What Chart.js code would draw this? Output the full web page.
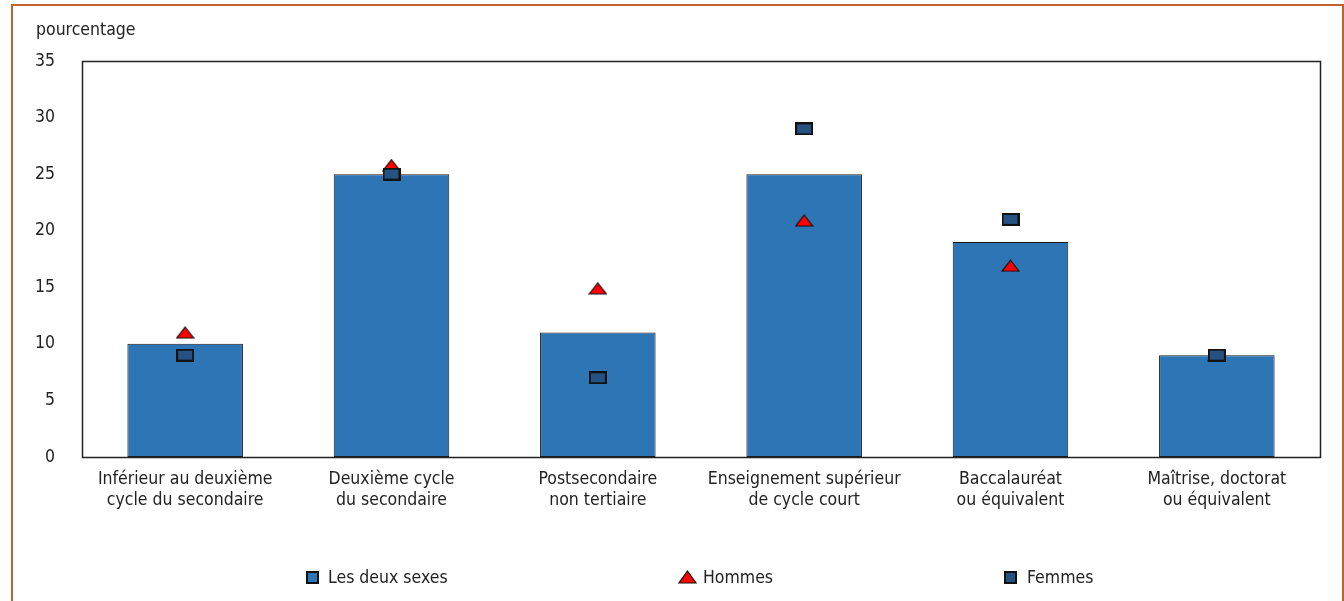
<!DOCTYPE html>
<html>
<head>
<meta charset="utf-8">
<script src="https://cdn.jsdelivr.net/npm/chart.js@4.4.1/dist/chart.umd.min.js"></script>
<style>
  html, body { margin: 0; padding: 0; background: #fff; }
  body { width: 1344px; height: 601px; position: relative; overflow: hidden;
         font-family: "Liberation Sans Narrow", "Arial Narrow", "DejaVu Sans Condensed", sans-serif; color: #222; }
  #frame { position: absolute; left: 11px; top: 4px; width: 1333px; height: 640px;
           border: 2px solid #c4622d; box-sizing: border-box; }
  #wrap { position: absolute; left: 0; top: 0; width: 1344px; height: 601px; }
  #unit { position: absolute; left: 36px; top: 19px; font-size: 17.5px; }
  .leg { position: absolute; top: 567px; font-size: 17.5px; line-height: 20px; white-space: nowrap; }
  .leg canvas { position: absolute; }
  .leg span { position: absolute; top: 0; }
</style>
</head>
<body>
<div id="frame"></div>
<div id="wrap"><canvas id="chart" width="1344" height="601"></canvas></div>
<div id="unit">pourcentage</div>
<div class="leg" id="leg"></div>

<script>
// categories and values (per cent)
const categories = [
    ['Inférieur au deuxième', 'cycle du secondaire'],
    ['Deuxième cycle', 'du secondaire'],
    ['Postsecondaire', 'non tertiaire'],
    ['Enseignement supérieur', 'de cycle court'],
    ['Baccalauréat', 'ou équivalent'],
    ['Maîtrise, doctorat', 'ou équivalent'],
];
const bothSexes = [10, 25, 11, 25, 19, 9];
const men = [11, 25.8, 14.9, 20.9, 16.9, 9];
const women = [9, 25, 7, 29, 21, 9];
const yTicks = [0, 5, 10, 15, 20, 25, 30, 35];

const BAR_BLUE = '#2e75b6';
const DARK_BLUE = '#255280';
const RED = '#ff0000';

/**
 * Small canvas markers used as point styles
 */
function makeRect(w, h, fill) {
    const c = document.createElement('canvas');
    c.width = w; c.height = h;
    const ctx = c.getContext('2d');
    ctx.fillStyle = fill;
    ctx.fillRect(0, 0, w, h);
    ctx.strokeStyle = '#111';
    ctx.lineWidth = 2;
    ctx.strokeRect(1, 1, w - 2, h - 2);
    return c;
}

function makeTriangle(w, h, fill) {
    const c = document.createElement('canvas');
    c.width = w; c.height = h;
    const ctx = c.getContext('2d');
    ctx.beginPath();
    ctx.moveTo(w / 2, 1);
    ctx.lineTo(w - 1, h - 1);
    ctx.lineTo(1, h - 1);
    ctx.closePath();
    ctx.fillStyle = fill;
    ctx.fill();
    ctx.strokeStyle = '#111';
    ctx.lineWidth = 1.2;
    ctx.stroke();
    return c;
}

const triangle = makeTriangle(19, 13, RED);
const womenRect = makeRect(18, 13, DARK_BLUE);

// black box round the plot area
const plotBox = {
    id: 'plotBox',
    afterDatasetsDraw(chart) {
        const a = chart.chartArea;
        const ctx = chart.ctx;
        ctx.save();
        ctx.strokeStyle = '#222';
        ctx.lineWidth = 1.5;
        ctx.strokeRect(Math.round(a.left) + 0.5, Math.round(a.top) + 0.5,
            Math.round(a.right - a.left), Math.round(a.bottom - a.top));
        ctx.restore();
    },
};

const FONT = { family: '"Liberation Sans Narrow", "Arial Narrow", "DejaVu Sans Condensed", sans-serif', size: 17.5 };

new Chart(document.getElementById('chart').getContext('2d'), {
    data: {
        labels: categories,
        datasets: [
            {
                type: 'line',
                label: 'Femmes',
                data: women,
                showLine: false,
                pointStyle: womenRect,
                order: 0,
            },
            {
                type: 'line',
                label: 'Hommes',
                data: men,
                showLine: false,
                pointStyle: triangle,
                order: 1,
            },
            {
                type: 'bar',
                label: 'Les deux sexes',
                data: bothSexes,
                backgroundColor: BAR_BLUE,
                borderColor: '#1a1a1a',
                borderWidth: 1,
                borderSkipped: false,
                categoryPercentage: 1,
                barPercentage: 0.56,
                order: 2,
            },
        ],
    },
    options: {
        responsive: false,
        animation: false,
        layout: { padding: { left: 0, top: 61, right: 24, bottom: 0 } },
        scales: {
            x: {
                grid: { display: false, drawTicks: false },
                border: { display: false },
                ticks: { color: '#222', font: FONT, padding: 12, maxRotation: 0, autoSkip: false },
                afterFit(scale) { scale.height = 144; },
            },
            y: {
                min: 0,
                max: 35,
                grid: { display: false, drawTicks: false },
                border: { display: false },
                afterBuildTicks(scale) { scale.ticks = yTicks.map(v => ({ value: v })); },
                ticks: { color: '#222', font: FONT, padding: 27 },
                afterFit(scale) { scale.width = 82; },
            },
        },
        plugins: {
            legend: { display: false },
            tooltip: { enabled: false },
        },
    },
    plugins: [plotBox],
});

// legend, drawn as html
const legendItems = [
    { text: 'Les deux sexes', x: 306, marker: makeRect(13, 13, BAR_BLUE), mx: 0, my: 4, tx: 22 },
    { text: 'Hommes', x: 678, marker: makeTriangle(19, 14, RED), mx: 0, my: 3, tx: 25 },
    { text: 'Femmes', x: 1004, marker: makeRect(13, 13, DARK_BLUE), mx: 0, my: 4, tx: 23 },
];
const leg = document.getElementById('leg');
legendItems.forEach(item => {
    const d = document.createElement('div');
    d.className = 'leg';
    d.style.left = item.x + 'px';
    d.style.top = '0px';
    d.style.position = 'absolute';
    item.marker.style.left = item.mx + 'px';
    item.marker.style.top = item.my + 'px';
    d.appendChild(item.marker);
    const s = document.createElement('span');
    s.textContent = item.text;
    s.style.left = item.tx + 'px';
    d.appendChild(s);
    leg.appendChild(d);
});
</script>
</body>
</html>
